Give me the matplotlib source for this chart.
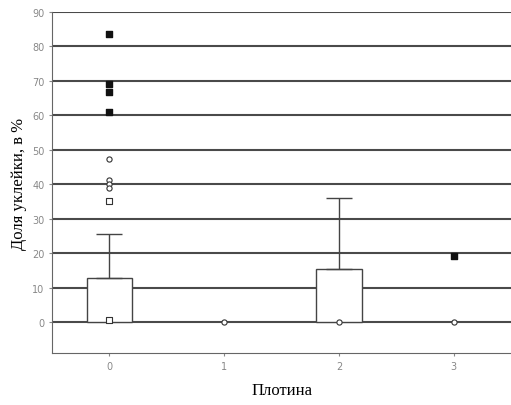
import numpy as np
import matplotlib.pyplot as plt

# categories (dam) and summary values
dams = [0, 1, 2, 3]
dam_labels = ["0", "1", "2", "3"]
means = [12.8, 0.0, 15.5, 0.0]
upper_err = [12.7, 0.0, 20.5, 0.0]

# individual points per dam
open_sq_x = [0, 0]
open_sq_y = [0.5, 35.0]
open_circ_x = [0, 0, 0, 0, 1, 2, 3]
open_circ_y = [47.4, 41.2, 40.2, 39.0, 0.0, 0.0, 0.0]
extreme_x = [0, 0, 0, 0, 3]
extreme_y = [83.7, 69.2, 66.9, 61.0, 19.2]

yticks = [0, 10, 20, 30, 40, 50, 60, 70, 80, 90]


def draw():
    fig = plt.figure(figsize=(5.11, 4.06), dpi=100)
    ax = fig.add_axes([0.102, 0.128, 0.898, 0.84])

    for t in yticks:
        ax.axhline(t, color="#4a4a4a", lw=1.5, zorder=1)

    x = np.array(dams)
    m = np.array(means)
    e = np.array(upper_err)
    keep = m > 0
    ax.bar(x[keep], m[keep], width=0.4, color="white", edgecolor="#444444",
           lw=1.0, zorder=2)
    ax.errorbar(x[keep], m[keep], yerr=[np.zeros(keep.sum()), e[keep]],
                fmt="none", ecolor="#444444", elinewidth=1.0, capsize=9.4,
                capthick=1.0, zorder=2)

    ax.scatter(open_sq_x, open_sq_y, marker="s", s=14, facecolor="white",
               edgecolor="#333333", lw=0.8, zorder=3)
    ax.scatter(open_circ_x, open_circ_y, marker="o", s=14, facecolor="white",
               edgecolor="#333333", lw=0.8, zorder=3)
    ax.scatter(extreme_x, extreme_y, marker="s", s=16, color="#111111",
               zorder=3)

    ax.set_xlim(-0.5, 3.5)
    ax.set_ylim(-9, 90)
    ax.set_yticks(yticks)
    ax.set_xticks(dams)
    ax.set_xticklabels(dam_labels)
    ax.tick_params(labelsize=7, colors="#888888", length=2)

    for side in ["top", "right"]:
        ax.spines[side].set_visible(False)
    for side in ["left", "bottom"]:
        ax.spines[side].set_color("#666666")

    ax.set_ylabel("Доля уклейки, в %", family="Liberation Serif",
                  fontsize=12, labelpad=4)
    ax.set_xlabel("Плотина", family="Liberation Serif", fontsize=12,
                  labelpad=8)

    fig.savefig("out.png", dpi=100)


def main():
    draw()


if __name__ == "__main__":
    main()
